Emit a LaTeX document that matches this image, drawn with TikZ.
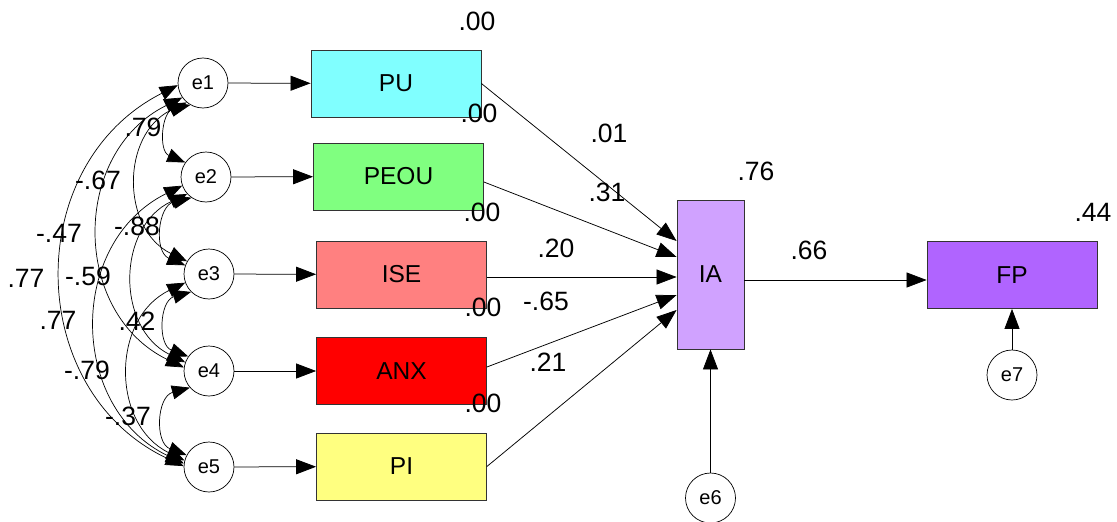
\documentclass[tikz,border=0pt]{standalone}
\usepackage{fontspec}
\setmainfont{Liberation Sans}
\usetikzlibrary{arrows.meta}
\definecolor{cPU}{HTML}{80FFFF}
\definecolor{cPEOU}{HTML}{80FF80}
\definecolor{cISE}{HTML}{FF8080}
\definecolor{cANX}{HTML}{FF0000}
\definecolor{cPI}{HTML}{FFFF80}
\definecolor{cIA}{HTML}{D0A2FF}
\definecolor{cFP}{HTML}{B064FF}
\begin{document}
\begin{tikzpicture}[x=1pt,y=1pt,
  obs/.style={draw=black!80, line width=0.8pt, minimum width=170pt, minimum height=67pt,
    inner sep=0pt, font=\fontsize{24.5}{28}\selectfont},
  err/.style={circle, draw, line width=0.7pt, minimum size=50pt, inner sep=0pt,
    fill=white, font=\fontsize{20}{24}\selectfont},
  est/.style={inner sep=0pt, font=\fontsize{26.5}{30}\selectfont},
  reg/.style={line width=0.75pt, -{Triangle[length=20pt,width=15pt]}},
  cov/.style={line width=0.7pt, {Triangle[length=18pt,width=14pt]}-{Triangle[length=18pt,width=14pt]}},
  near/.style={bend right=72, looseness=1.3},
  far/.style={bend right=64, looseness=1.18}]
\useasboundingbox (0,0) rectangle (1117,-522);

% observed variables
\node[obs, fill=cPU]   (PU)   at (396,-83.5)   {PU};
\node[obs, fill=cPEOU] (PEOU) at (398.5,-176.5) {PEOU};
\node[obs, fill=cISE]  (ISE)  at (401.5,-274.5) {ISE};
\node[obs, fill=cANX]  (ANX)  at (401.5,-371)   {ANX};
\node[obs, fill=cPI]   (PI)   at (401.5,-466.5) {PI};
\node[obs, fill=cIA, minimum width=67pt, minimum height=149pt] (IA) at (710.5,-274.5) {IA};
\node[obs, fill=cFP]   (FP)   at (1012,-275)    {FP};

% error terms
\node[err] (e1) at (203,-83)  {e1};
\node[err] (e2) at (206,-177) {e2};
\node[err] (e3) at (209,-274) {e3};
\node[err] (e4) at (209,-371) {e4};
\node[err] (e5) at (209,-467) {e5};
\node[err] (e6) at (710.5,-498) {e6};
\node[err] (e7) at (1012,-375) {e7};

% errors into indicators
\draw[reg] (e1) -- (PU);
\draw[reg] (e2) -- (PEOU);
\draw[reg] (e3) -- (ISE);
\draw[reg] (e4) -- (ANX);
\draw[reg] (e5) -- (PI);
\draw[reg] (e6) -- (IA);
\draw[reg] (e7) -- (FP);

% structural paths
\draw[reg] (PU.east) -- ([yshift=33.5pt]IA.west);
\draw[reg] ([yshift=-5.5pt]PEOU.east) -- ([yshift=17.5pt]IA.west);
\draw[reg] ([yshift=-2.5pt]ISE.east) -- ([yshift=-2.5pt]IA.west);
\draw[reg] ([yshift=4pt]ANX.east) -- ([yshift=-20.5pt]IA.west);
\draw[reg] (PI.east) -- ([yshift=-35.5pt]IA.west);
\draw[reg] ([yshift=-5.5pt]IA.east) -- ([yshift=-5pt]FP.west);

% covariances among error terms
\draw[cov] (e1.240) to[near] (e2.145);
\draw[cov] (e2.235) to[near] (e3.160);
\draw[cov] (e3.225) to[near] (e4.145);
\draw[cov] (e4.221) to[near] (e5.152);
\draw[cov] (e1.230) to[far] (e3.150);
\draw[cov] (e2.222) to[far] (e4.160);
\draw[cov] (e3.200) to[far] (e5.165);
\draw[cov] (e1.215) to[far] (e4.172);
\draw[cov] (e2.200) to[far] (e5.172);
\draw[cov] (e1.185) to[far] (e5.178);

% squared multiple correlations
\node[est] (rPU)   at (477,-21)  {.00};
\node[est] (rPEOU) at (479,-113) {.00};
\node[est] (rISE)  at (482,-212) {.00};
\node[est] (rANX)  at (483,-307) {.00};
\node[est] (rPI)   at (483,-403) {.00};
\node[est] (rIA)   at (756,-171) {.76};
\node[est] (rFP)   at (1093,-212) {.44};

% path coefficients
\node[est] (bPU)   at (609,-133) {.01};
\node[est] (bPEOU) at (607,-192) {.31};
\node[est] (bISE)  at (556,-248) {.20};
\node[est] (bANX)  at (546,-301) {-.65};
\node[est] (bPI)   at (548,-362) {.21};
\node[est] (bIA)   at (809,-250) {.66};

% correlations among errors
\node[est] (c12) at (143,-127) {.79};
\node[est] (c13) at (98,-180)  {-.67};
\node[est] (c14) at (59,-233)  {-.47};
\node[est] (c15) at (26,-278)  {.77};
\node[est] (c23) at (137,-226) {-.88};
\node[est] (c24) at (88,-276)  {-.59};
\node[est] (c25) at (58,-320)  {.77};
\node[est] (c34) at (137,-321) {.42};
\node[est] (c35) at (87,-370)  {-.79};
\node[est] (c45) at (128,-416) {-.37};
\end{tikzpicture}
\end{document}
